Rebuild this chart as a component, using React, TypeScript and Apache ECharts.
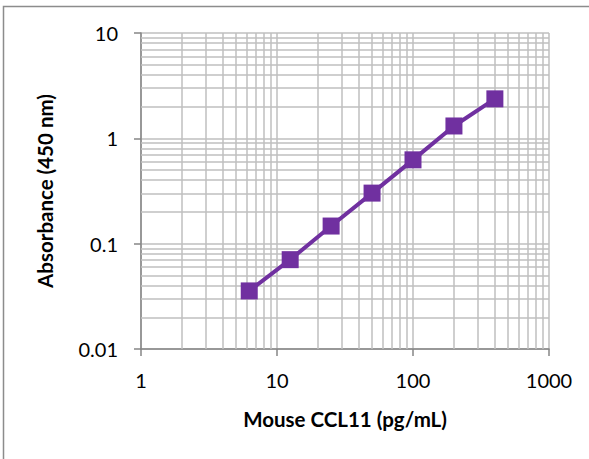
import React, { useEffect, useRef } from "react";
import * as echarts from "echarts";

const concentrations = [6.25, 12.5, 25, 50, 100, 200, 400];
const absorbance = [0.0356, 0.0705, 0.147, 0.302, 0.625, 1.31, 2.37];
const xTickLabels = ["1", "10", "100", "1000"];
const yTickLabels = ["0.01", "0.1", "1", "10"];
const xMinorGrid = [2, 3, 4, 5, 6, 7, 8, 9, 20, 30, 40, 50, 60, 70, 80, 90, 200, 300, 400, 500, 600, 700, 800, 900];
const yMinorGrid = [0.02, 0.03, 0.04, 0.05, 0.06, 0.07, 0.08, 0.09, 0.2, 0.3, 0.4, 0.5, 0.6, 0.7, 0.8, 0.9, 2, 3, 4, 5, 6, 7, 8, 9];

const FONT = "Lato";
const GRID_COLOR = "#bfbfbf";
const AXIS_COLOR = "#868686";

export default function App() {
  const ref = useRef<HTMLDivElement>(null);
  useEffect(() => {
    document.body.style.margin = "0";
    const chart = echarts.init(ref.current!, null, { renderer: "svg" });
    const fmt = (labels: string[]) => (v: number) => {
      const s = String(Number(v.toPrecision(6)));
      return labels.includes(s) ? s : "";
    };
    const minorLines = [
      ...xMinorGrid.map((v) => ({ xAxis: v })),
      ...yMinorGrid.map((v) => ({ yAxis: v })),
    ];
    chart.setOption({
      animation: false,
      backgroundColor: "#ffffff",
      grid: { left: 141, right: 40, top: 33, bottom: 110, containLabel: false },
      xAxis: {
        type: "log",
        logBase: 10,
        min: 1,
        max: 1000,
        name: "Mouse CCL11 (pg/mL)",
        nameLocation: "middle",
        nameGap: 59,
        nameTextStyle: { fontFamily: FONT, fontSize: 20.5, fontWeight: "bold", color: "#000" },
        axisLine: { lineStyle: { color: AXIS_COLOR, width: 1.5 } },
        axisTick: { show: true, length: 7, inside: false, lineStyle: { color: AXIS_COLOR, width: 1.5 } },
        axisLabel: { fontFamily: FONT, fontSize: 20, color: "#000", margin: 21, formatter: fmt(xTickLabels) },
        splitLine: { show: true, lineStyle: { color: GRID_COLOR, width: 1.5 } },
        minorTick: { show: false },
        minorSplitLine: { show: false },
      },
      yAxis: {
        type: "log",
        logBase: 10,
        min: 0.01,
        max: 10,
        name: "Absorbance (450 nm)",
        nameLocation: "middle",
        nameGap: 86,
        nameRotate: 90,
        nameTextStyle: { fontFamily: FONT, fontSize: 20.5, fontWeight: "bold", color: "#000" },
        axisLine: { show: true, lineStyle: { color: AXIS_COLOR, width: 1.5 } },
        axisTick: { show: true, length: 7, inside: false, lineStyle: { color: AXIS_COLOR, width: 1.5 } },
        axisLabel: { fontFamily: FONT, fontSize: 20, color: "#000", margin: 23, formatter: fmt(yTickLabels) },
        splitLine: { show: true, lineStyle: { color: GRID_COLOR, width: 1.5 } },
        minorTick: { show: false },
        minorSplitLine: { show: false },
      },
      graphic: [
        {
          type: "rect",
          shape: { x: 3.5, y: 6.5, width: 700, height: 600 },
          style: { fill: "none", stroke: "#8c8c8c", lineWidth: 1.5 },
          silent: true,
          z: -1,
        },
      ],
      series: [
        {
          type: "line",
          data: concentrations.map((c, i) => [c, absorbance[i]]),
          symbol: "rect",
          symbolSize: 17,
          lineStyle: { color: "#7030a0", width: 4 },
          itemStyle: { color: "#7030a0" },
          z: 5,
          markLine: {
            silent: true,
            symbol: "none",
            label: { show: false },
            lineStyle: { color: GRID_COLOR, width: 1.5, type: "solid" },
            data: minorLines,
            z: 1,
          },
        },
      ],
    });
    return () => chart.dispose();
  }, []);
  return <div ref={ref} style={{ width: 589, height: 459 }} />;
}
